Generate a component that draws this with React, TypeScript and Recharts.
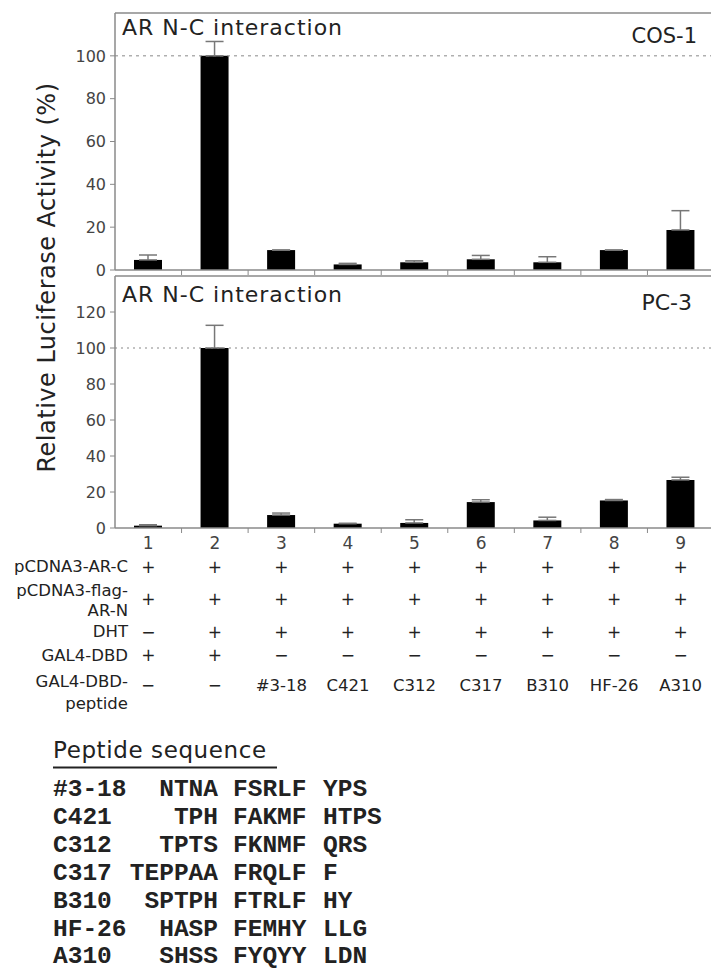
import React from 'react';
import { BarChart, Bar, XAxis, YAxis, ErrorBar, ReferenceLine } from 'recharts';

// ---- data ----
const categories = ['1', '2', '3', '4', '5', '6', '7', '8', '9'];
const cos1Values = [4.7, 100, 9.3, 2.6, 3.6, 5.0, 3.6, 9.3, 18.7];
const cos1Errors = [2.3, 6.7, 0, 0.5, 0.7, 1.8, 2.6, 0, 9.0];
const pc3Values = [1.3, 100, 7.2, 2.4, 2.8, 14.4, 4.2, 15.3, 26.7];
const pc3Errors = [0.5, 12.6, 1.1, 0.2, 1.8, 1.3, 1.8, 0.5, 1.5];

const cos1Ticks = [0, 20, 40, 60, 80, 100];
const pc3Ticks = [0, 20, 40, 60, 80, 100, 120];

const rowArC = ['+', '+', '+', '+', '+', '+', '+', '+', '+'];
const rowArN = ['+', '+', '+', '+', '+', '+', '+', '+', '+'];
const rowDHT = ['−', '+', '+', '+', '+', '+', '+', '+', '+'];
const rowGal4 = ['+', '+', '−', '−', '−', '−', '−', '−', '−'];
const rowPeptide = ['−', '−', '#3-18', 'C421', 'C312', 'C317', 'B310', 'HF-26', 'A310'];

const peptideNames = ['#3-18', 'C421', 'C312', 'C317', 'B310', 'HF-26', 'A310'];
const peptideN = ['NTNA', 'TPH', 'TPTS', 'TEPPAA', 'SPTPH', 'HASP', 'SHSS'];
const peptideCore = ['FSRLF', 'FAKMF', 'FKNMF', 'FRQLF', 'FTRLF', 'FEMHY', 'FYQYY'];
const peptideC = ['YPS', 'HTPS', 'QRS', 'F', 'HY', 'LLG', 'LDN'];

const cos1Data = categories.map((c, i) => ({ cat: c, v: cos1Values[i], err: [0, cos1Errors[i]] }));
const pc3Data = categories.map((c, i) => ({ cat: c, v: pc3Values[i], err: [0, pc3Errors[i]] }));

// ---- layout ----
const CHART_W = 714;
const Y_W = 115;
const BAND = (CHART_W - Y_W) / categories.length;
const SANS = '"DejaVu Sans", sans-serif';
const AXIS = '#8a8a8a';
const TXT = '#222';

const TopTick = (props: any) => {
  const { x, y, index } = props;
  return (
    <g>
      {index < categories.length - 1 && (
        <line x1={x + BAND / 2} x2={x + BAND / 2} y1={y} y2={y + 5} stroke={AXIS} strokeWidth={1} />
      )}
    </g>
  );
};

const BottomTick = (props: any) => {
  const { x, y, index } = props;
  const common = { fontFamily: SANS, fill: TXT, textAnchor: 'middle' as const, dominantBaseline: 'central' as const };
  return (
    <g>
      {index < categories.length - 1 && (
        <line x1={x + BAND / 2} x2={x + BAND / 2} y1={y} y2={y + 5} stroke={AXIS} strokeWidth={1} />
      )}
      <text x={x} y={y + 15} fontSize={17} {...common} fill="#444">{categories[index]}</text>
      <text x={x} y={y + 38.7} fontSize={17} {...common}>{rowArC[index]}</text>
      <text x={x} y={y + 71} fontSize={17} {...common}>{rowArN[index]}</text>
      <text x={x} y={y + 103.7} fontSize={17} {...common}>{rowDHT[index]}</text>
      <text x={x} y={y + 127} fontSize={17} {...common}>{rowGal4[index]}</text>
      <text x={x} y={y + 157.7} fontSize={16.5} {...common}>{rowPeptide[index]}</text>
    </g>
  );
};

const yTick = { fontFamily: SANS, fontSize: 16, fill: '#444' };

export default function App() {
  return (
    <div style={{ position: 'absolute', left: 0, top: 0, width: 711, height: 972, overflow: 'hidden', background: '#fff' }}>
      <div style={{ position: 'absolute', left: 0, top: 0 }}>
        <BarChart width={CHART_W} height={290} data={cos1Data} margin={{ top: 13, right: 0, bottom: 14, left: 0 }}>
          <XAxis dataKey="cat" height={6} tickSize={0} tickMargin={0} tickLine={false} axisLine={{ stroke: AXIS, strokeWidth: 1.5 }} tick={(p: any) => <TopTick {...p} />} interval={0} />
          <YAxis width={Y_W} domain={[0, 120]} ticks={cos1Ticks} tickSize={5} tickMargin={4} axisLine={{ stroke: AXIS, strokeWidth: 1.5 }} tickLine={{ stroke: AXIS }} tick={yTick} interval={0} />
          <ReferenceLine y={120} stroke={AXIS} strokeWidth={1.5} />
          <ReferenceLine y={100} stroke="#888" strokeDasharray="3 4" strokeWidth={1} />
          <Bar dataKey="v" fill="#000" barSize={28} isAnimationActive={false}>
            <ErrorBar dataKey="err" width={9} stroke="#777" strokeWidth={1.5} direction="y" />
          </Bar>
        </BarChart>
      </div>
      <div style={{ position: 'absolute', left: 0, top: 266 }}>
        <BarChart width={CHART_W} height={452} data={pc3Data} margin={{ top: 10, right: 0, bottom: 0, left: 0 }}>
          <XAxis dataKey="cat" height={190} tickSize={0} tickMargin={0} tickLine={false} axisLine={{ stroke: AXIS, strokeWidth: 1.5 }} tick={(p: any) => <BottomTick {...p} />} interval={0} />
          <YAxis width={Y_W} domain={[0, 140]} ticks={pc3Ticks} tickSize={5} tickMargin={4} axisLine={{ stroke: AXIS, strokeWidth: 1.5 }} tickLine={{ stroke: AXIS }} tick={yTick} interval={0} />
          <ReferenceLine y={140} stroke={AXIS} strokeWidth={1.5} />
          <ReferenceLine y={100} stroke="#888" strokeDasharray="2 4" strokeWidth={1.2} />
          <Bar dataKey="v" fill="#000" barSize={28} isAnimationActive={false}>
            <ErrorBar dataKey="err" width={9} stroke="#777" strokeWidth={1.5} direction="y" />
          </Bar>
        </BarChart>
      </div>
      <svg width={711} height={972} style={{ position: 'absolute', left: 0, top: 0, pointerEvents: 'none' }}>
        <text x={55} y={277.5} transform="rotate(-90 55 277.5)" textAnchor="middle" fontFamily={SANS} fontSize={24} letterSpacing={0.5} fill={TXT}>
          Relative Luciferase Activity (%)
        </text>
        <text x={122} y={35} fontFamily={SANS} fontSize={22} letterSpacing={1} fill={TXT}>AR N-C interaction</text>
        <text x={697} y={43} textAnchor="end" fontFamily={SANS} fontSize={21} fill={TXT}>COS-1</text>
        <text x={122} y={302} fontFamily={SANS} fontSize={22} letterSpacing={1} fill={TXT}>AR N-C interaction</text>
        <text x={692} y={310} textAnchor="end" fontFamily={SANS} fontSize={22} fill={TXT}>PC-3</text>

        {[
          ['pCDNA3-AR-C', 566.7],
          ['pCDNA3-flag-', 590],
          ['AR-N', 610.7],
          ['DHT', 631.7],
          ['GAL4-DBD', 655],
          ['GAL4-DBD-', 681.7],
          ['peptide', 703.3],
        ].map(([t, yy]) => (
          <text key={t as string} x={128} y={yy as number} textAnchor="end" dominantBaseline="central" fontFamily={SANS} fontSize={16.5} fill={TXT}>{t}</text>
        ))}

        <text x={53} y={758} fontFamily={SANS} fontSize={23} letterSpacing={0.6} fill={TXT}>Peptide sequence</text>
        <line x1={53} x2={277} y1={767.5} y2={767.5} stroke="#222" strokeWidth={2} />

        {peptideNames.map((n, i) => {
          const yy = 796 + i * 27.9;
          const f = { fontFamily: '"Liberation Mono", monospace', fontSize: 24.5, fontWeight: 700 as const, fill: '#222' };
          return (
            <g key={n}>
              <text x={53} y={yy} {...f}>{n}</text>
              <text x={218} y={yy} textAnchor="end" {...f}>{peptideN[i]}</text>
              <text x={233} y={yy} {...f}>{peptideCore[i]}</text>
              <text x={323} y={yy} {...f}>{peptideC[i]}</text>
            </g>
          );
        })}
      </svg>
    </div>
  );
}
